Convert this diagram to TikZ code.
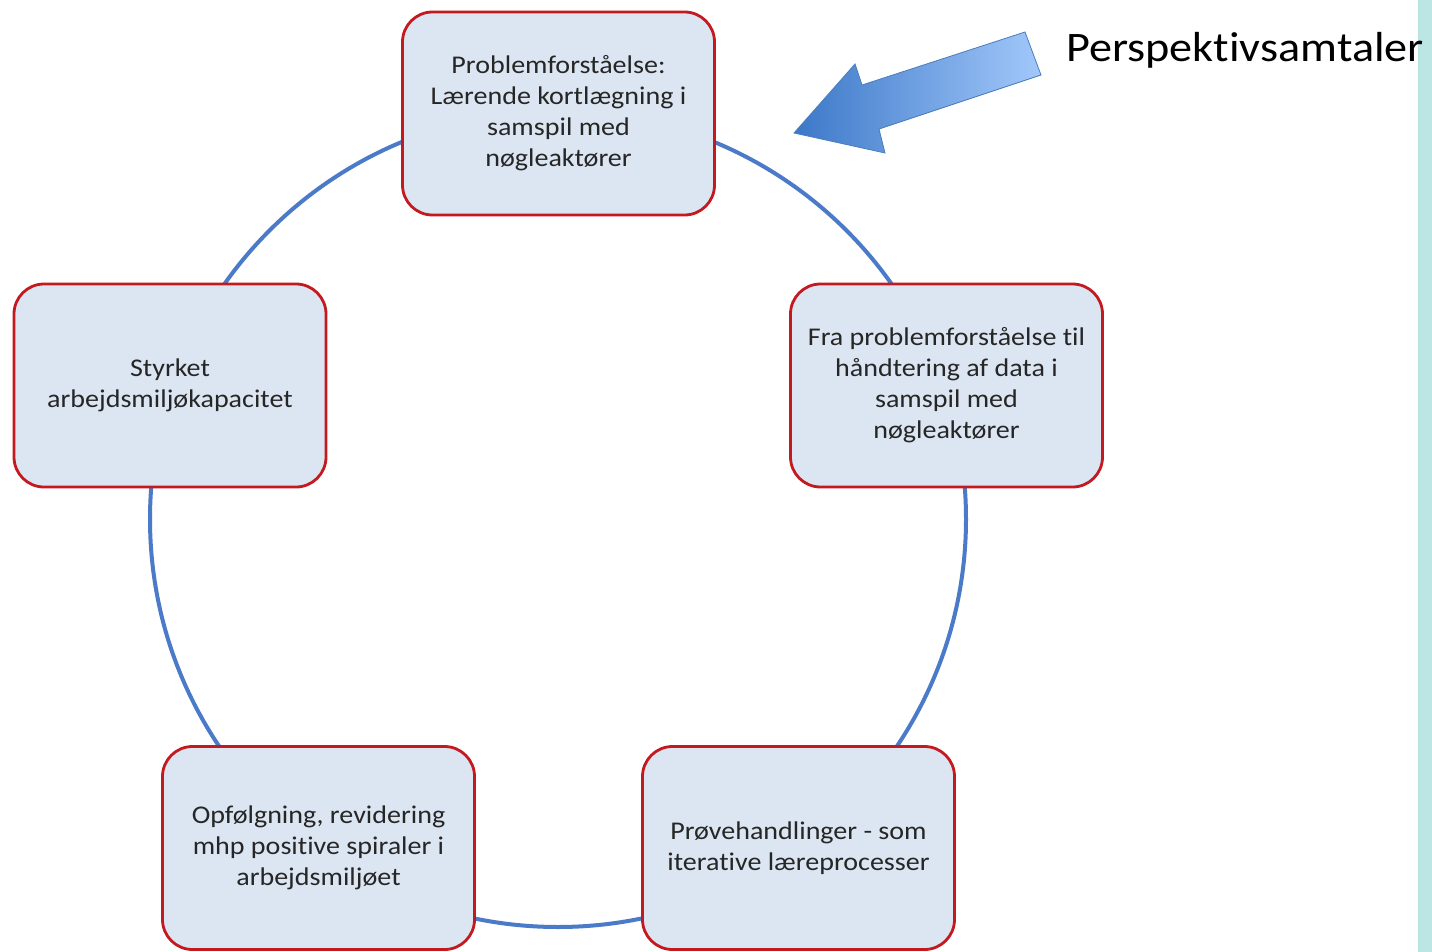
\documentclass[tikz,border=0pt]{standalone}
\usepackage{fontspec}
\setmainfont{Carlito}[FakeStretch=1.1, Ligatures=NoCommon]
\definecolor{boxfill}{HTML}{DCE6F2}
\definecolor{boxline}{HTML}{C41A1F}
\definecolor{ring}{HTML}{4A7AC8}
\definecolor{strip}{HTML}{BCE6E3}
\definecolor{arrowdark}{HTML}{3C78C8}
\definecolor{arrowlight}{HTML}{A2C8FA}
\definecolor{arrowedge}{HTML}{4A7EBB}
\begin{document}
\begin{tikzpicture}[x=1pt,y=-1pt,
  stepbox/.style={draw=boxline, line width=2.8pt, fill=boxfill, rounded corners=30pt,
    minimum width=312pt, minimum height=203pt, align=center, inner sep=0pt,
    font=\fontsize{25.5}{31}\selectfont, text=black!85}]
\useasboundingbox (0,0) rectangle (1432,952);
\fill[white] (0,0) rectangle (1432,952);
\fill[strip] (1418,0) rectangle (1432,952);
\coordinate (ctr) at (558,519);
\draw[ring, line width=4pt] (ctr) circle[radius=408pt];
\node[stepbox] (top) at (558.5,113.5) {Problemforståelse:\\Lærende kortlægning i\\samspil med\\nøgleaktører};
\node[stepbox] (right) at (946.5,385.5) {Fra problemforståelse til\\håndtering af data i\\samspil med\\nøgleaktører};
\node[stepbox] (bright) at (798.5,848) {Prøvehandlinger - som\\iterative læreprocesser};
\node[stepbox] (bleft) at (318.5,848) {Opfølgning, revidering\\mhp positive spiraler i\\arbejdsmiljøet};
\node[stepbox] (left) at (170,385.5) {Styrket\\arbejdsmiljøkapacitet};
\shade[left color=arrowdark, right color=arrowlight, draw=arrowedge, line width=0.8pt]
  (1025,32) -- (1041,75) -- (879,129) -- (885,153) -- (794,133) -- (855,64) -- (862,85) -- cycle;
\node[anchor=base west, inner sep=0pt, font=\fontsize{42}{50}\selectfont] (persp) at (1066,62) {Perspektivsamtaler};
\end{tikzpicture}
\end{document}
